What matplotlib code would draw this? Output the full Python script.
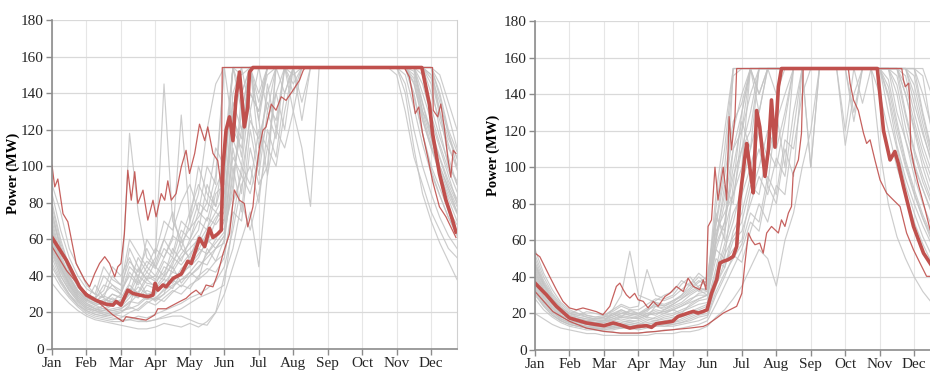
import numpy as np
import matplotlib.pyplot as plt

plt.rcParams['font.family'] = ['Liberation Serif', 'DejaVu Serif']

months = ['Jan', 'Feb', 'Mar', 'Apr', 'May', 'Jun',
          'Jul', 'Aug', 'Sep', 'Oct', 'Nov', 'Dec']
# ensemble members sampled every quarter month
t_grid = np.arange(0, 12, 0.25)

# ---- left panel ----
left_gray = [
    [70, 52, 40, 32, 27, 24, 22, 21, 22, 25, 30, 27, 28, 32, 35, 38,
     40, 45, 50, 55, 62, 95, 120, 140, 130, 150, 154, 154, 154, 154, 154, 154,
     154, 154, 154, 154, 154, 154, 154, 154, 154, 154, 154, 140, 125, 110, 95, 80],
    [55, 42, 33, 27, 23, 21, 19, 18, 20, 24, 38, 30, 26, 30, 45, 36,
     42, 38, 55, 48, 60, 110, 85, 130, 100, 145, 120, 154, 140, 154, 154, 154,
     154, 154, 154, 154, 154, 154, 154, 154, 154, 154, 150, 130, 115, 100, 88, 75],
    [80, 60, 45, 36, 30, 28, 40, 35, 30, 55, 45, 38, 48, 60, 52, 70,
     65, 80, 75, 95, 154, 154, 154, 154, 140, 154, 154, 154, 154, 154, 154, 154,
     154, 154, 154, 154, 154, 154, 154, 154, 154, 154, 154, 154, 140, 125, 110, 100],
    [36, 30, 25, 21, 18, 16, 15, 14, 13, 12, 11, 11, 12, 14, 13, 12,
     14, 12, 15, 20, 30, 45, 60, 75, 45, 95, 120, 110, 130, 154, 154, 154,
     154, 154, 154, 154, 154, 154, 154, 154, 154, 140, 110, 85, 70, 58, 48, 38],
    [60, 45, 36, 29, 25, 22, 20, 19, 18, 17, 16, 15, 16, 18, 20, 22,
     25, 28, 30, 32, 35, 70, 100, 90, 120, 110, 140, 154, 150, 154, 154, 154,
     154, 154, 154, 154, 154, 154, 154, 154, 154, 154, 154, 154, 154, 130, 105, 90],
    [65, 48, 38, 30, 26, 24, 25, 30, 28, 118, 75, 50, 45, 40, 55, 48,
     60, 70, 65, 85, 90, 154, 130, 154, 154, 154, 154, 154, 154, 154, 154, 154,
     154, 154, 154, 154, 154, 154, 154, 154, 154, 154, 154, 130, 120, 105, 92, 82],
    [75, 55, 42, 34, 28, 26, 30, 35, 32, 40, 35, 42, 50, 145, 70, 60,
     75, 90, 80, 110, 100, 154, 140, 154, 154, 154, 154, 154, 154, 154, 154, 154,
     154, 154, 154, 154, 154, 154, 154, 154, 154, 154, 154, 154, 150, 130, 115, 105],
    [58, 44, 35, 28, 24, 22, 21, 24, 26, 35, 30, 38, 40, 50, 60, 128,
     70, 85, 120, 145, 154, 154, 154, 154, 154, 154, 154, 154, 154, 154, 154, 154,
     154, 154, 154, 154, 154, 154, 154, 154, 154, 154, 145, 125, 110, 98, 86, 75],
    [50, 38, 30, 25, 21, 19, 18, 17, 16, 16, 15, 15, 16, 17, 18, 18,
     16, 14, 13, 20, 40, 55, 80, 65, 85, 110, 100, 130, 154, 154, 154, 154,
     154, 154, 154, 154, 154, 154, 154, 154, 150, 130, 105, 90, 75, 65, 55, 50],
    [68, 50, 39, 31, 27, 25, 27, 26, 25, 30, 40, 36, 35, 45, 42, 50,
     55, 60, 72, 68, 75, 130, 105, 154, 135, 154, 154, 154, 154, 154, 154, 154,
     154, 154, 154, 154, 154, 154, 154, 154, 154, 154, 154, 154, 145, 120, 100, 92],
    [62, 47, 37, 30, 26, 35, 28, 40, 35, 48, 42, 55, 45, 60, 75, 55,
     70, 100, 85, 78, 110, 154, 154, 130, 154, 130, 154, 154, 154, 154, 154, 154,
     154, 154, 154, 154, 154, 154, 154, 154, 154, 154, 154, 154, 154, 140, 120, 108],
    [90, 75, 55, 45, 35, 30, 28, 25, 24, 30, 28, 32, 30, 36, 42, 40,
     46, 52, 58, 62, 66, 85, 140, 154, 110, 140, 154, 154, 154, 154, 154, 154,
     154, 154, 154, 154, 154, 154, 154, 154, 154, 154, 138, 118, 100, 88, 76, 68],
    [45, 36, 29, 24, 20, 18, 17, 16, 17, 20, 22, 26, 24, 28, 32, 30,
     35, 38, 42, 48, 52, 75, 70, 110, 90, 100, 154, 154, 130, 110, 78, 154,
     154, 154, 154, 154, 154, 154, 154, 154, 154, 145, 120, 100, 85, 72, 62, 55],
    [72, 55, 44, 35, 30, 28, 32, 45, 40, 50, 38, 60, 52, 70, 65, 80,
     90, 75, 100, 90, 154, 120, 154, 154, 154, 154, 154, 154, 154, 154, 154, 154,
     154, 154, 154, 154, 154, 154, 154, 154, 154, 154, 154, 154, 154, 150, 135, 120],
    [85, 65, 50, 40, 33, 30, 45, 38, 35, 60, 52, 45, 55, 50, 62, 58,
     66, 72, 80, 75, 85, 120, 110, 154, 125, 95, 154, 140, 154, 125, 154, 154,
     154, 154, 154, 154, 154, 154, 154, 154, 154, 154, 154, 154, 150, 135, 118, 100],
    [54, 40, 32, 26, 22, 20, 19, 20, 21, 22, 24, 28, 27, 30, 34, 38,
     42, 48, 46, 55, 58, 100, 75, 120, 95, 130, 115, 154, 154, 154, 154, 154,
     154, 154, 154, 154, 154, 154, 154, 154, 154, 154, 148, 128, 112, 96, 82, 70],
    [64, 49, 39, 31, 27, 25, 24, 26, 30, 42, 36, 45, 40, 38, 48, 55,
     50, 62, 58, 70, 80, 140, 154, 154, 154, 154, 154, 154, 154, 154, 154, 154,
     154, 154, 154, 154, 154, 154, 154, 154, 154, 154, 154, 154, 148, 128, 112, 98],
    [52, 40, 32, 26, 22, 21, 24, 28, 25, 32, 28, 35, 33, 38, 36, 44,
     48, 55, 52, 60, 70, 105, 95, 125, 115, 135, 125, 154, 145, 154, 154, 154,
     154, 154, 154, 154, 154, 154, 154, 154, 154, 154, 154, 135, 118, 104, 90, 80],
    [78, 58, 44, 35, 29, 27, 26, 30, 28, 36, 50, 42, 38, 48, 44, 52,
     58, 65, 90, 78, 95, 154, 154, 154, 154, 154, 154, 154, 154, 154, 154, 154,
     154, 154, 154, 154, 154, 154, 154, 154, 154, 154, 154, 154, 154, 145, 128, 110],
    [47, 37, 30, 24, 21, 19, 18, 19, 20, 23, 21, 25, 28, 26, 31, 35,
     33, 40, 44, 42, 50, 80, 95, 85, 105, 125, 140, 120, 154, 135, 154, 154,
     154, 154, 154, 154, 154, 154, 154, 154, 154, 150, 132, 112, 96, 84, 72, 62],
    [66, 50, 40, 32, 28, 26, 29, 27, 26, 33, 31, 40, 37, 42, 50, 46,
     52, 58, 66, 75, 70, 125, 115, 154, 154, 154, 154, 154, 154, 154, 154, 154,
     154, 154, 154, 154, 154, 154, 154, 154, 154, 154, 154, 145, 128, 112, 98, 86],
    [58, 45, 35, 28, 24, 22, 21, 22, 23, 28, 34, 30, 31, 36, 33, 42,
     45, 50, 60, 55, 62, 90, 130, 154, 125, 154, 154, 154, 154, 154, 154, 154,
     154, 154, 154, 154, 154, 154, 154, 154, 154, 154, 152, 134, 116, 100, 88, 78],
    [42, 34, 28, 23, 19, 17, 16, 15, 15, 16, 18, 17, 19, 21, 23, 25,
     28, 30, 33, 37, 45, 65, 90, 100, 80, 120, 105, 140, 154, 154, 154, 154,
     154, 154, 154, 154, 154, 154, 154, 154, 154, 154, 140, 118, 98, 84, 72, 63],
    [74, 56, 43, 34, 29, 27, 35, 33, 30, 45, 40, 48, 44, 55, 50, 65,
     60, 75, 70, 88, 100, 154, 150, 154, 154, 154, 154, 154, 154, 154, 154, 154,
     154, 154, 154, 154, 154, 154, 154, 154, 154, 154, 154, 154, 154, 138, 118, 104],
    [56, 43, 34, 27, 23, 21, 20, 21, 22, 26, 25, 29, 27, 33, 38, 34,
     40, 44, 52, 58, 64, 115, 100, 140, 130, 154, 154, 154, 154, 154, 154, 154,
     154, 154, 154, 154, 154, 154, 154, 154, 154, 154, 146, 126, 110, 96, 84, 74],
    [61, 46, 36, 29, 25, 23, 22, 25, 27, 31, 44, 38, 34, 40, 46, 60,
     48, 54, 64, 72, 78, 135, 120, 154, 154, 154, 154, 154, 154, 154, 154, 154,
     154, 154, 154, 154, 154, 154, 154, 154, 154, 154, 154, 150, 132, 116, 102, 90],
]

left_mid = [(0, 61), (0.42, 48.5), (0.8, 34), (1.0, 29.5), (1.29, 26.5), (1.57, 24.5),
            (1.77, 24), (1.86, 26), (2.0, 24), (2.2, 32.2), (2.35, 30.4), (2.54, 29.5),
            (2.78, 28.6), (2.93, 29.5), (2.99, 35.9), (3.07, 32.2), (3.22, 35), (3.31, 34),
            (3.51, 38.6), (3.75, 41), (3.94, 48), (4.04, 46.8), (4.28, 60.5), (4.43, 56),
            (4.57, 66), (4.67, 61), (4.81, 63), (4.91, 65), (4.96, 99.6), (5.05, 119.7),
            (5.15, 127), (5.25, 114), (5.34, 138), (5.44, 151.5), (5.54, 130.6), (5.58, 121.5),
            (5.68, 132.4), (5.73, 151.5), (5.83, 154), (10.73, 154), (10.95, 134), (11.04, 118),
            (11.24, 96), (11.43, 81.4), (11.62, 70.5), (11.72, 64)]

left_high = [(0, 100.5), (0.08, 88.7), (0.17, 93), (0.32, 74), (0.46, 69.6), (0.51, 65),
             (0.7, 46.8), (0.95, 37.7), (1.09, 34), (1.24, 41.3), (1.38, 46.8), (1.53, 50.5),
             (1.67, 46.8), (1.82, 39.5), (1.91, 45), (2.0, 46.8), (2.1, 63), (2.2, 97.8),
             (2.3, 81.4), (2.4, 97), (2.49, 79.6), (2.64, 86.9), (2.78, 70.5), (2.93, 81.4),
             (3.02, 72.3), (3.17, 85), (3.27, 81.4), (3.36, 92), (3.46, 81.4), (3.6, 85),
             (3.75, 99.6), (3.89, 108.7), (3.99, 96), (4.14, 107), (4.28, 123), (4.43, 114),
             (4.52, 121.5), (4.67, 107), (4.81, 103), (4.91, 88.7), (4.94, 154), (11.04, 154),
             (11.06, 130.6), (11.19, 127), (11.28, 134), (11.38, 121.5), (11.48, 105),
             (11.57, 94), (11.64, 108.7), (11.72, 107)]

left_low = [(0, 56), (0.42, 43), (0.9, 32), (1.38, 25), (1.77, 18.6), (2.06, 15),
            (2.15, 17.7), (2.44, 16.8), (2.73, 15.8), (2.98, 18.6), (3.07, 22), (3.31, 22),
            (3.51, 24), (3.7, 25.9), (3.89, 27.7), (4.04, 30.4), (4.18, 32.2), (4.33, 29.5),
            (4.47, 35), (4.67, 34), (4.81, 41.3), (4.96, 52), (5.15, 63), (5.29, 87),
            (5.44, 81.4), (5.58, 79.6), (5.68, 66.8), (5.83, 77.8), (5.92, 96), (6.02, 110.6),
            (6.12, 119.7), (6.21, 121.5), (6.36, 134), (6.5, 130.6), (6.65, 138), (6.79, 136),
            (6.99, 141.5), (7.18, 147), (7.29, 152.5), (7.35, 154), (10.22, 154),
            (10.37, 148.8), (10.44, 141.5), (10.54, 128.8), (10.64, 132.4), (10.75, 117.9),
            (10.9, 105), (11.04, 92), (11.24, 77.8), (11.43, 72.3), (11.57, 66.8), (11.72, 61)]

# ---- right panel ----
right_gray = [
    [36, 28, 22, 18, 16, 15, 14, 13, 13, 12, 13, 14, 13, 14, 15, 16,
     17, 18, 20, 22, 24, 40, 55, 70, 90, 110, 130, 154, 140, 154, 154, 154,
     154, 154, 154, 154, 154, 154, 154, 154, 140, 120, 100, 85, 70, 58, 48, 40],
    [45, 35, 27, 22, 19, 17, 16, 15, 16, 20, 18, 22, 20, 18, 24, 22,
     25, 28, 32, 35, 38, 75, 60, 154, 154, 154, 154, 154, 154, 154, 154, 154,
     154, 154, 154, 154, 154, 154, 154, 154, 154, 154, 154, 140, 120, 100, 85, 72],
    [30, 24, 19, 16, 14, 13, 12, 11, 10, 10, 9, 9, 9, 10, 10, 11,
     11, 12, 13, 14, 16, 25, 35, 45, 55, 70, 65, 90, 80, 110, 95, 154,
     100, 154, 154, 154, 154, 154, 154, 154, 154, 130, 110, 90, 75, 62, 52, 44],
    [40, 31, 25, 20, 18, 17, 16, 17, 18, 22, 30, 54, 30, 28, 26, 25,
     27, 30, 34, 38, 35, 60, 80, 110, 120, 154, 140, 154, 154, 154, 154, 154,
     154, 154, 154, 154, 154, 154, 154, 154, 154, 154, 154, 154, 140, 120, 102, 90],
    [50, 38, 30, 24, 20, 19, 21, 20, 19, 22, 25, 23, 24, 44, 30, 28,
     30, 36, 40, 34, 32, 55, 50, 90, 130, 154, 154, 154, 154, 154, 154, 154,
     154, 154, 154, 154, 154, 154, 154, 154, 154, 154, 130, 115, 100, 88, 76, 66],
    [20, 17, 14, 12, 11, 10, 9, 9, 8, 8, 8, 8, 8, 8, 9, 9,
     9, 10, 10, 11, 13, 18, 22, 28, 35, 45, 55, 50, 35, 60, 75, 100,
     120, 154, 154, 154, 154, 154, 154, 154, 110, 80, 62, 50, 40, 32, 26, 22],
    [42, 33, 26, 21, 18, 16, 15, 14, 14, 15, 16, 15, 14, 16, 18, 20,
     22, 20, 25, 28, 30, 70, 100, 150, 154, 154, 154, 154, 154, 154, 154, 154,
     154, 154, 154, 154, 154, 154, 154, 154, 154, 154, 154, 154, 154, 130, 110, 95],
    [33, 26, 21, 17, 15, 14, 13, 12, 12, 13, 12, 13, 12, 13, 14, 13,
     14, 15, 17, 19, 20, 35, 48, 55, 60, 85, 100, 120, 110, 130, 154, 154,
     154, 154, 154, 154, 154, 154, 154, 154, 154, 154, 140, 115, 95, 80, 68, 58],
    [48, 37, 29, 23, 20, 22, 19, 18, 18, 20, 22, 20, 19, 22, 25, 24,
     26, 30, 36, 42, 38, 65, 75, 85, 100, 154, 130, 154, 154, 154, 154, 154,
     154, 154, 154, 154, 112, 140, 154, 154, 154, 154, 154, 154, 154, 150, 120, 100],
    [38, 29, 23, 19, 17, 15, 14, 14, 15, 17, 19, 18, 17, 19, 21, 20,
     22, 24, 26, 28, 30, 50, 45, 65, 75, 95, 110, 90, 130, 100, 154, 154,
     100, 154, 154, 154, 154, 130, 154, 154, 154, 154, 154, 130, 110, 95, 82, 70],
    [55, 42, 33, 26, 22, 20, 18, 17, 17, 18, 20, 21, 20, 23, 27, 30,
     32, 38, 35, 40, 36, 85, 120, 154, 154, 154, 154, 154, 154, 154, 154, 154,
     154, 154, 154, 154, 154, 154, 154, 154, 154, 154, 154, 154, 154, 154, 140, 115],
    [28, 22, 18, 15, 13, 12, 11, 11, 11, 11, 12, 12, 11, 12, 13, 13,
     13, 14, 15, 16, 18, 30, 40, 52, 48, 65, 80, 70, 90, 85, 120, 154,
     154, 154, 154, 154, 154, 154, 154, 154, 154, 140, 118, 100, 85, 72, 60, 52],
    [35, 27, 21, 17, 15, 14, 13, 13, 14, 13, 15, 16, 15, 17, 16, 18,
     19, 21, 23, 25, 26, 45, 65, 85, 110, 120, 154, 154, 154, 154, 154, 154,
     154, 154, 154, 154, 120, 154, 154, 154, 154, 154, 154, 154, 135, 118, 104, 92],
    [44, 34, 27, 22, 19, 18, 17, 16, 16, 17, 18, 17, 18, 20, 19, 22,
     24, 26, 30, 33, 30, 60, 90, 80, 120, 140, 154, 154, 154, 154, 154, 154,
     154, 154, 154, 154, 154, 154, 154, 154, 154, 154, 154, 150, 130, 112, 98, 86],
    [39, 30, 24, 19, 17, 16, 15, 15, 15, 16, 17, 16, 16, 18, 17, 19,
     20, 22, 24, 27, 28, 55, 70, 95, 110, 130, 154, 154, 154, 154, 154, 154,
     154, 154, 154, 154, 154, 154, 135, 154, 154, 154, 150, 128, 108, 92, 80, 70],
    [46, 36, 28, 23, 20, 19, 18, 17, 18, 19, 21, 19, 20, 22, 24, 23,
     25, 28, 31, 34, 33, 62, 85, 120, 140, 154, 154, 154, 154, 154, 154, 154,
     154, 154, 154, 154, 154, 154, 154, 154, 154, 154, 154, 154, 150, 128, 108, 94],
    [32, 25, 20, 16, 14, 13, 12, 12, 12, 12, 13, 13, 12, 13, 14, 15,
     15, 16, 18, 20, 22, 38, 52, 62, 70, 90, 85, 110, 100, 125, 154, 154,
     154, 154, 154, 154, 154, 154, 154, 154, 154, 148, 125, 104, 88, 74, 63, 55],
    [41, 32, 25, 20, 18, 17, 16, 16, 16, 18, 20, 19, 18, 20, 22, 21,
     23, 25, 28, 30, 30, 58, 70, 100, 125, 110, 154, 154, 154, 154, 154, 154,
     154, 154, 154, 154, 154, 125, 154, 154, 154, 154, 154, 140, 122, 104, 90, 78],
    [37, 29, 23, 18, 16, 15, 14, 13, 13, 14, 14, 15, 14, 15, 16, 17,
     18, 19, 21, 23, 25, 42, 58, 75, 85, 100, 120, 105, 125, 140, 154, 154,
     154, 154, 154, 154, 154, 154, 154, 154, 154, 154, 145, 122, 102, 88, 75, 65],
    [52, 40, 31, 25, 21, 20, 19, 18, 19, 21, 24, 22, 22, 25, 28, 27,
     29, 33, 37, 32, 34, 78, 110, 154, 154, 154, 154, 154, 154, 154, 154, 154,
     154, 154, 154, 154, 154, 154, 154, 154, 154, 154, 154, 154, 154, 140, 122, 104],
    [34, 26, 21, 17, 15, 14, 13, 12, 12, 13, 14, 14, 13, 14, 15, 14,
     15, 17, 19, 21, 22, 36, 45, 60, 65, 80, 95, 85, 105, 95, 130, 154,
     154, 154, 154, 154, 154, 154, 154, 154, 154, 138, 112, 94, 80, 68, 58, 50],
    [43, 33, 26, 21, 18, 17, 16, 15, 16, 16, 18, 18, 17, 19, 20, 21,
     22, 24, 27, 31, 32, 68, 95, 125, 135, 154, 154, 154, 154, 154, 154, 154,
     154, 154, 154, 154, 154, 154, 154, 154, 154, 154, 154, 145, 125, 108, 94, 82],
    [31, 24, 19, 16, 14, 13, 12, 12, 11, 12, 12, 13, 12, 13, 13, 14,
     14, 15, 16, 18, 19, 32, 42, 50, 58, 75, 70, 95, 85, 115, 110, 140,
     154, 154, 154, 154, 154, 154, 154, 154, 154, 144, 122, 102, 86, 72, 62, 54],
    [47, 36, 28, 23, 20, 18, 17, 17, 17, 19, 22, 20, 19, 21, 26, 24,
     27, 29, 33, 37, 40, 72, 65, 110, 130, 154, 140, 154, 154, 154, 154, 154,
     154, 154, 154, 154, 154, 154, 154, 154, 154, 154, 154, 154, 145, 124, 106, 92],
]

right_mid = [(0, 36.6), (0.33, 30.2), (0.62, 23.9), (1.0, 17.5), (1.49, 14.8), (2.0, 13.3),
             (2.27, 14.8), (2.46, 13.8), (2.75, 12), (2.99, 12.9), (3.23, 13.3), (3.38, 12.4),
             (3.52, 14.4), (3.77, 15.1), (3.99, 15.7), (4.15, 18.4), (4.3, 19.3), (4.44, 20.2),
             (4.59, 21.1), (4.73, 20.2), (4.88, 21.1), (4.99, 22), (5.12, 31), (5.27, 38.4),
             (5.36, 47.5), (5.46, 48.5), (5.6, 49.4), (5.75, 51.2), (5.85, 56.6), (5.94, 82),
             (6.09, 106), (6.14, 113), (6.28, 93), (6.33, 86), (6.43, 131), (6.52, 122),
             (6.67, 95), (6.77, 109.5), (6.86, 136.8), (6.96, 111), (7.06, 144), (7.15, 154),
             (9.93, 154), (10.11, 120), (10.3, 104), (10.44, 108.6), (10.54, 102),
             (10.69, 89.4), (10.98, 67.6), (11.27, 53), (11.46, 47.5), (11.72, 40)]

right_high = [(0, 53), (0.14, 51), (0.28, 45.7), (0.43, 40), (0.62, 33), (0.81, 26.6),
              (1.0, 23), (1.2, 22), (1.39, 23), (1.59, 22), (1.78, 21), (1.97, 19.3),
              (2.17, 23.9), (2.36, 34.8), (2.46, 36.6), (2.56, 33), (2.65, 30.2), (2.75, 28.4),
              (2.89, 31), (2.99, 27.5), (3.14, 26.6), (3.28, 23), (3.43, 26.6), (3.57, 23.9),
              (3.77, 29.3), (3.91, 31), (4.1, 34.8), (4.3, 32), (4.44, 39.3), (4.59, 34.8),
              (4.78, 33), (4.88, 38.4), (4.96, 33), (5.02, 67.6), (5.12, 71.2), (5.22, 100),
              (5.31, 82), (5.46, 100), (5.56, 82), (5.63, 127.7), (5.7, 109.5), (5.8, 127.7),
              (5.85, 154), (10.64, 154), (10.69, 147.7), (10.74, 144), (10.84, 146),
              (10.87, 136.8), (10.9, 110), (11.0, 100), (11.1, 92), (11.2, 85), (11.3, 78),
              (11.46, 66), (11.72, 56)]

right_low = [(0, 32), (0.52, 21), (1.0, 15.7), (1.49, 12), (2.0, 10.2), (2.46, 9.3),
             (2.99, 9.3), (3.52, 10.2), (3.99, 11.1), (4.49, 12), (4.88, 12.9), (4.99, 13.8),
             (5.27, 17.5), (5.46, 20.2), (5.65, 22), (5.85, 23.9), (6.0, 31), (6.09, 47.5),
             (6.19, 64), (6.28, 60.3), (6.38, 57.6), (6.52, 58.5), (6.62, 53), (6.72, 64),
             (6.86, 67.6), (6.96, 65.8), (7.06, 64), (7.15, 71.2), (7.25, 67.6), (7.35, 74.9),
             (7.44, 78.5), (7.49, 96.7), (7.64, 104), (7.73, 118.6), (7.78, 154), (9.09, 154),
             (9.14, 145.9), (9.24, 136.8), (9.38, 131), (9.53, 118.6), (9.62, 113),
             (9.72, 115), (9.86, 104), (10.01, 93), (10.2, 85.8), (10.4, 82), (10.59, 78.5),
             (10.78, 64), (10.98, 54.8), (11.17, 47.5), (11.36, 40.3), (11.46, 40.3),
             (11.72, 36)]

RED = '#c0504d'
GRAY = '#c4c4c4'


def draw_panel(ax, gray, low, high, mid, label_xy):
    for g in gray:
        ax.plot(t_grid, g, color=GRAY, lw=0.85, alpha=0.85)
    for band in (low, high):
        x, y = zip(*band)
        ax.plot(x, y, color=RED, lw=0.9, alpha=0.9)
    x, y = zip(*mid)
    ax.plot(x, y, color=RED, lw=2.6)

    ax.set_xlim(0, 11.75)
    ax.set_ylim(0, 180)
    ax.set_yticks(range(0, 181, 20))
    ax.set_xticks(range(12))
    ax.set_xticklabels(months)
    ax.grid(True, axis='y', color='#d9d9d9', lw=0.9)
    ax.grid(True, axis='x', color='#e6e6e6', lw=0.8)
    ax.set_axisbelow(True)
    for s in ('left', 'bottom'):
        ax.spines[s].set_color('#8c8c8c')
        ax.spines[s].set_linewidth(1.2)
    ax.spines['top'].set_visible(False)
    ax.spines['right'].set_color('#d0d0d0')
    ax.tick_params(direction='out', length=4, width=1, color='#8c8c8c',
                   labelsize=11, labelcolor='#262626', pad=2)
    ax.set_ylabel('Power (MW)', fontsize=10.5, fontweight='bold')
    ax.yaxis.set_label_coords(*label_xy)


fig = plt.figure(figsize=(9.3, 3.77), dpi=100)
ax1 = fig.add_axes([0.0559, 0.0743, 0.4355, 0.8727])
ax2 = fig.add_axes([0.5753, 0.0716, 0.4355, 0.8727])

draw_panel(ax1, left_gray, left_low, left_high, left_mid, (-0.080, 0.535))
draw_panel(ax2, right_gray, right_low, right_high, right_mid, (-0.086, 0.593))

fig.savefig('out.png', dpi=100)
